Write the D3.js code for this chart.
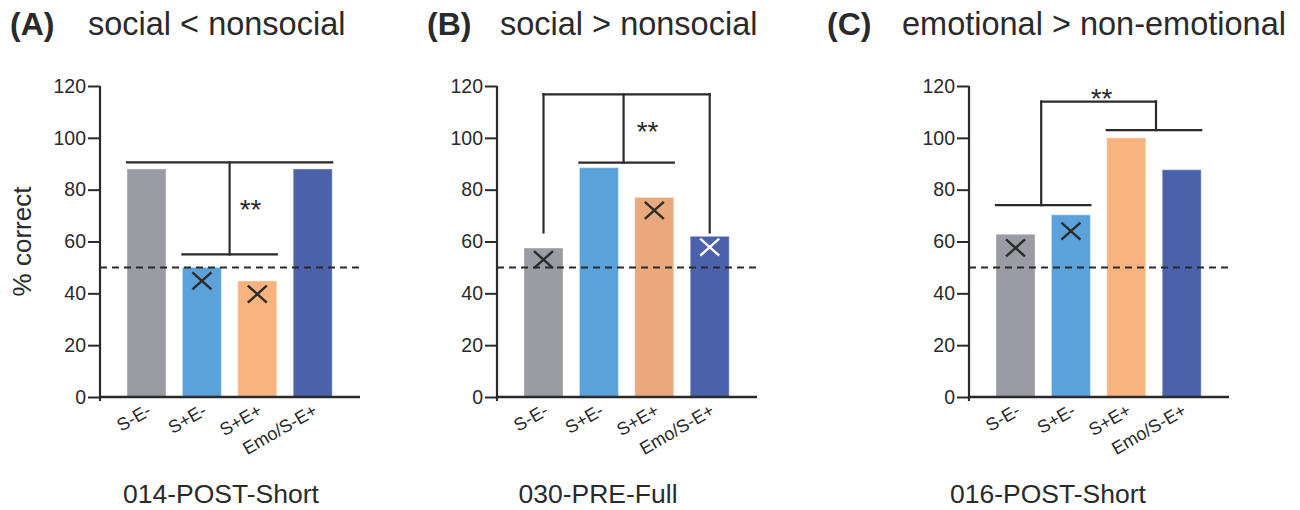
<!DOCTYPE html>
<html>
<head>
<meta charset="utf-8">
<script src="https://cdn.jsdelivr.net/npm/d3@7/dist/d3.min.js"></script>
<style>
  html, body { margin: 0; padding: 0; background: #fff; }
  svg { display: block; font-family: "Liberation Sans", Arial, Helvetica, sans-serif; }
</style>
</head>
<body>
<svg id="chart" width="1300" height="510"></svg>
<script>
// ---------------- data ----------------
const categories = ["S-E-", "S+E-", "S+E+", "Emo/S-E+"];
const yTicks = [0, 20, 40, 60, 80, 100, 120];
const chanceLevel = 50;

const panelLetters = ["(A)", "(B)", "(C)"];
const panelTitles = ["social < nonsocial", "social > nonsocial", "emotional > non-emotional"];
const panelSubtitles = ["014-POST-Short", "030-PRE-Full", "016-POST-Short"];

const valuesA = [88, 50, 44.8, 88];
const valuesB = [57.5, 88.5, 77, 62];
const valuesC = [62.8, 70.3, 100, 87.7];

// "X" markers (null = no marker)
const markersA = [null, 44.8, 39.7, null];
const markersB = [53, null, 72, 57.8];
const markersC = [57.5, 64, null, null];

// significance brackets (levels in % correct)
const bracketA = { low: 55, top: 90.5, stars: 74 };
const bracketB = { outerLegs: 63.5, top: 116.8, inner: 90.4, stars: 104 };
const bracketC = { left: 74, right: 103, top: 114, stars: 117 };

const barColors = ["#9a9ba3", "#5ba1da", "#f8b37f", "#4b61ac"];
const barColorsB = ["#9a9ba3", "#5ba1da", "#e9a97c", "#4b61ac"];

// ---------------- layout ----------------
const svg = d3.select("#chart");
const ink = "#2a2a2a";
const axisXs = [100, 497, 969];
const axisLen = 260;
const y = d3.scaleLinear().domain([0, 120]).range([397, 86]);

function makeX(ax) {
  return d3.scaleBand().domain(categories)
    .range([ax + 18.8, ax + 240.4])
    .paddingInner(0.296).paddingOuter(0.148);
}

function drawPanel(i, values, markers, colors) {
  const ax = axisXs[i];
  const x = makeX(ax);
  const g = svg.append("g");

  // bars
  g.selectAll("rect.bar").data(values).join("rect")
    .attr("class", "bar")
    .attr("x", (d, j) => x(categories[j]))
    .attr("width", x.bandwidth())
    .attr("y", d => y(d))
    .attr("height", d => y(0) - y(d))
    .attr("fill", (d, j) => colors[j])
    .attr("stroke", "#ffffff").attr("stroke-opacity", 0.35).attr("stroke-width", 1.2);

  // chance line
  g.append("line")
    .attr("x1", ax).attr("x2", ax + axisLen)
    .attr("y1", y(chanceLevel)).attr("y2", y(chanceLevel))
    .attr("stroke", ink).attr("stroke-width", 2).attr("stroke-dasharray", "7,5");

  // X markers
  markers.forEach((m, j) => {
    if (m === null) return;
    const cx = x(categories[j]) + x.bandwidth() / 2, cy = y(m);
    const col = (i === 1 && j === 3) ? "#ffffff" : "#2b2b2b";
    g.append("path")
      .attr("d", `M${cx - 9.5},${cy - 8.5}L${cx + 9.5},${cy + 8.5}M${cx - 9.5},${cy + 8.5}L${cx + 9.5},${cy - 8.5}`)
      .attr("stroke", col).attr("stroke-width", 2.4).attr("fill", "none");
  });

  // y axis
  const yAxis = d3.axisLeft(y).tickValues(yTicks).tickSize(12).tickSizeOuter(0).tickPadding(2);
  const ya = g.append("g").attr("transform", `translate(${ax},0)`).call(yAxis);
  ya.select(".domain").attr("stroke", ink).attr("stroke-width", 2.2)
    .attr("d", `M0,${y(120)}V${y(0) + 4}`);
  ya.selectAll(".tick line").attr("stroke", ink).attr("stroke-width", 2);
  ya.selectAll(".tick text").attr("fill", ink).attr("font-size", 19.5)
    .attr("font-family", "Liberation Sans, Arial, sans-serif");

  // x axis baseline
  g.append("line").attr("x1", ax).attr("x2", ax + axisLen)
    .attr("y1", y(0)).attr("y2", y(0))
    .attr("stroke", ink).attr("stroke-width", 2.4);

  // x labels
  g.selectAll("text.xl").data(categories).join("text")
    .attr("class", "xl")
    .attr("text-anchor", "end")
    .attr("font-size", 18)
    .attr("fill", ink)
    .attr("transform", d => `translate(${x(d) + x.bandwidth() / 2 + 6},${y(0) + 17}) rotate(-30)`)
    .text(d => d);

  // titles
  const titleX = [10, 427, 827][i];
  const textX = [88, 500, 902][i];
  svg.append("text").attr("x", titleX).attr("y", 35)
    .attr("font-size", 32).attr("font-weight", "bold").attr("fill", ink)
    .text(panelLetters[i]);
  svg.append("text").attr("x", textX).attr("y", 35)
    .attr("font-size", 32.5).attr("fill", ink)
    .text(panelTitles[i]);

  // subtitle
  svg.append("text").attr("x", [221, 598, 1048][i]).attr("y", 503)
    .attr("text-anchor", "middle").attr("font-size", 26.5).attr("fill", ink)
    .text(panelSubtitles[i]);

  return { g, x };
}

function line(g, x1, y1, x2, y2) {
  g.append("line").attr("x1", x1).attr("y1", y1).attr("x2", x2).attr("y2", y2)
    .attr("stroke", ink).attr("stroke-width", 2.2).attr("stroke-linecap", "square");
}
function stars(g, cx, v) {
  g.append("text").attr("x", cx).attr("y", y(v) + 14)
    .attr("text-anchor", "middle").attr("font-size", 28).attr("fill", ink)
    .text("**");
}

// Panel A
{
  const { g, x } = drawPanel(0, valuesA, markersA, barColors);
  const L = x("S-E-"), R = x("Emo/S-E+") + x.bandwidth();
  const l2 = x("S+E-"), r2 = x("S+E+") + x.bandwidth();
  const mid = (l2 + r2) / 2;
  line(g, L, y(bracketA.top), R, y(bracketA.top));
  line(g, mid, y(bracketA.top), mid, y(bracketA.low));
  line(g, l2, y(bracketA.low), r2, y(bracketA.low));
  stars(g, mid + 21, bracketA.stars);
}
// Panel B
{
  const { g, x } = drawPanel(1, valuesB, markersB, barColorsB);
  const c1 = x("S-E-") + x.bandwidth() / 2, c4 = x("Emo/S-E+") + x.bandwidth() / 2;
  const l2 = x("S+E-"), r2 = x("S+E+") + x.bandwidth();
  const mid = (l2 + r2) / 2 - 3;
  line(g, c1, y(bracketB.top), c4, y(bracketB.top));
  line(g, c1, y(bracketB.top), c1, y(bracketB.outerLegs));
  line(g, c4, y(bracketB.top), c4, y(bracketB.outerLegs));
  line(g, mid, y(bracketB.top), mid, y(bracketB.inner));
  line(g, l2, y(bracketB.inner), r2, y(bracketB.inner));
  stars(g, mid + 24, bracketB.stars);
}
// Panel C
{
  const { g, x } = drawPanel(2, valuesC, markersC, barColors);
  const l1 = x("S-E-"), r1 = x("S+E-") + x.bandwidth();
  const l2 = x("S+E+"), r2 = x("Emo/S-E+") + x.bandwidth();
  const m1 = (l1 + r1) / 2 - 2, m2 = (l2 + r2) / 2 + 2;
  line(g, l1, y(bracketC.left), r1, y(bracketC.left));
  line(g, m1, y(bracketC.left), m1, y(bracketC.top));
  line(g, m1, y(bracketC.top), m2, y(bracketC.top));
  line(g, m2, y(bracketC.top), m2, y(bracketC.right));
  line(g, l2, y(bracketC.right), r2, y(bracketC.right));
  stars(g, (m1 + m2) / 2 + 3, bracketC.stars);
}

// y label (panel A only)
svg.append("text")
  .attr("transform", `translate(31,${(y(0) + y(120)) / 2}) rotate(-90)`)
  .attr("text-anchor", "middle").attr("font-size", 26).attr("fill", ink)
  .text("% correct");
</script>
</body>
</html>
